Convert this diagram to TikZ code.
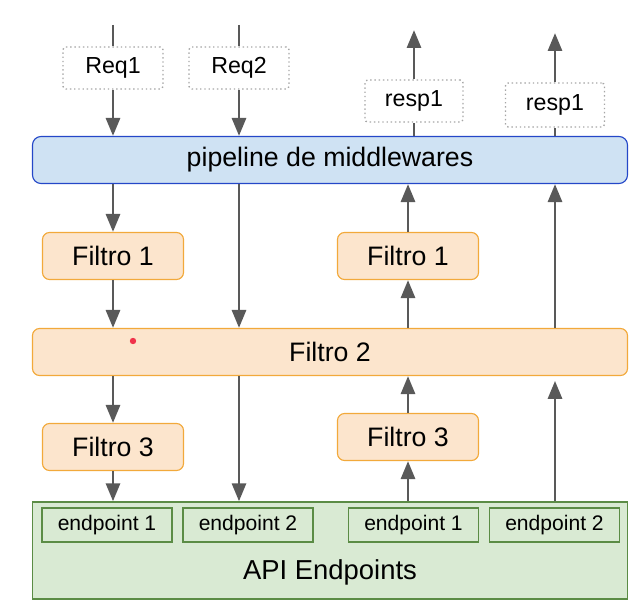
\documentclass[tikz,border=0pt]{standalone}
\usepackage{fontspec}
\setmainfont{Liberation Sans}
\usetikzlibrary{positioning, arrows.meta}

\definecolor{pipeblue}{HTML}{CFE2F3}
\definecolor{pipeedge}{HTML}{2447C8}
\definecolor{filtfill}{HTML}{FCE5CD}
\definecolor{filtedge}{HTML}{F2A93B}
\definecolor{apifill}{HTML}{D9EAD3}
\definecolor{apiedge}{HTML}{5B8C45}
\definecolor{flowgray}{HTML}{595959}
\definecolor{dotred}{HTML}{F0324B}

\begin{document}
\begin{tikzpicture}[
  reqbox/.style={draw=gray!70, dotted, line width=1pt, rounded corners=2pt, fill=white, minimum width=2.5cm, minimum height=1.05cm, font=\fontsize{16.5}{19}\selectfont},
  filtro/.style={draw=filtedge, fill=filtfill, line width=0.8pt, rounded corners=5pt, minimum width=3.525cm, minimum height=1.175cm, font=\fontsize{19}{23}\selectfont},
  wide/.style={minimum width=14.875cm, minimum height=1.175cm},
  endbox/.style={draw=apiedge, fill=apifill, line width=1pt, minimum width=3.25cm, minimum height=0.85cm, font=\fontsize{15}{18}\selectfont},
  flow/.style={-{Triangle[width=0.35cm, length=0.45cm]}, line width=2.1pt, flowgray},
  plain/.style={line width=2.1pt, flowgray}
]
  \useasboundingbox (0,0) rectangle (16,15.025);

  % API Endpoints (bottom)
  \node[draw=apiedge, fill=apifill, line width=1pt, minimum width=14.875cm, minimum height=2.425cm] (api) at (8.25, 1.2625) {};
  \node[font=\fontsize{19.5}{23}\selectfont] (apilbl) at (8.25, 0.725) {API Endpoints};
  \node[endbox] (ep1) at (2.675, 1.9) {endpoint 1};
  \node[endbox] (ep2) at (6.2, 1.9) {endpoint 2};
  \node[endbox] (ep3) at (10.3375, 1.9) {endpoint 1};
  \node[endbox] (ep4) at (13.8625, 1.9) {endpoint 2};

  % Pipeline and filters
  \node[draw=pipeedge, fill=pipeblue, line width=0.8pt, rounded corners=6pt, wide, font=\fontsize{19}{23}\selectfont] (pipe) at (8.25, 11.025) {pipeline de middlewares};
  \node[filtro] (f1l) at (2.825, 8.625) {Filtro 1};
  \node[filtro] (f1r) at (10.2, 8.625) {Filtro 1};
  \node[filtro, wide] (f2) at (8.25, 6.225) {Filtro 2};
  \node[filtro] (f3l) at (2.825, 3.85) {Filtro 3};
  \node[filtro] (f3r) at (10.2, 4.1) {Filtro 3};

  % Requests and responses
  \node[reqbox] (req1) at (2.825, 13.325) {Req1};
  \node[reqbox] (req2) at (5.975, 13.325) {Req2};
  \node[reqbox, minimum width=2.45cm] (resp1) at (10.35, 12.5) {resp1};
  \node[reqbox, minimum width=2.475cm, minimum height=1.1cm] (resp2) at (13.875, 12.4) {resp1};

  \coordinate (in1) at (2.825, 14.4);
  \coordinate (in2) at (5.975, 14.4);
  \coordinate (out1) at (10.35, 14.275);
  \coordinate (out2) at (13.875, 14.2);

  % Req1 down the left column
  \draw[plain] (in1) -- (req1.north);
  \draw[flow] (req1.south) -- (pipe.north -| req1.south);
  \draw[flow] (pipe.south -| f1l.north) -- (f1l.north);
  \draw[flow] (f1l.south) -- (f2.north -| f1l.south);
  \draw[flow] (f2.south -| f3l.north) -- (f3l.north);
  \draw[flow] (f3l.south) -- (api.north -| f3l.south);

  % Req2 skips filters 1 and 3
  \draw[plain] (in2) -- (req2.north);
  \draw[flow] (req2.south) -- (pipe.north -| req2.south);
  \draw[flow] (pipe.south -| req2.south) -- (f2.north -| req2.south);
  \draw[flow] (f2.south -| req2.south) -- (api.north -| req2.south);

  % first response back up
  \draw[flow] (api.north -| f3r.south) -- (f3r.south);
  \draw[flow] (f3r.north) -- (f2.south -| f3r.north);
  \draw[flow] (f2.north -| f1r.south) -- (f1r.south);
  \draw[flow] (f1r.north) -- (pipe.south -| f1r.north);
  \draw[plain] (pipe.north -| resp1.south) -- (resp1.south);
  \draw[flow] (resp1.north) -- (out1);

  % second response back up
  \draw[flow] (api.north -| resp2.south) -- ([yshift=-0.12cm]f2.south -| resp2.south);
  \draw[flow] (f2.north -| resp2.south) -- (pipe.south -| resp2.south);
  \draw[plain] (pipe.north -| resp2.south) -- (resp2.south);
  \draw[flow] (resp2.north) -- (out2);

  % pointer dot
  \fill[dotred] (3.325, 6.5) circle (0.08);
\end{tikzpicture}
\end{document}
